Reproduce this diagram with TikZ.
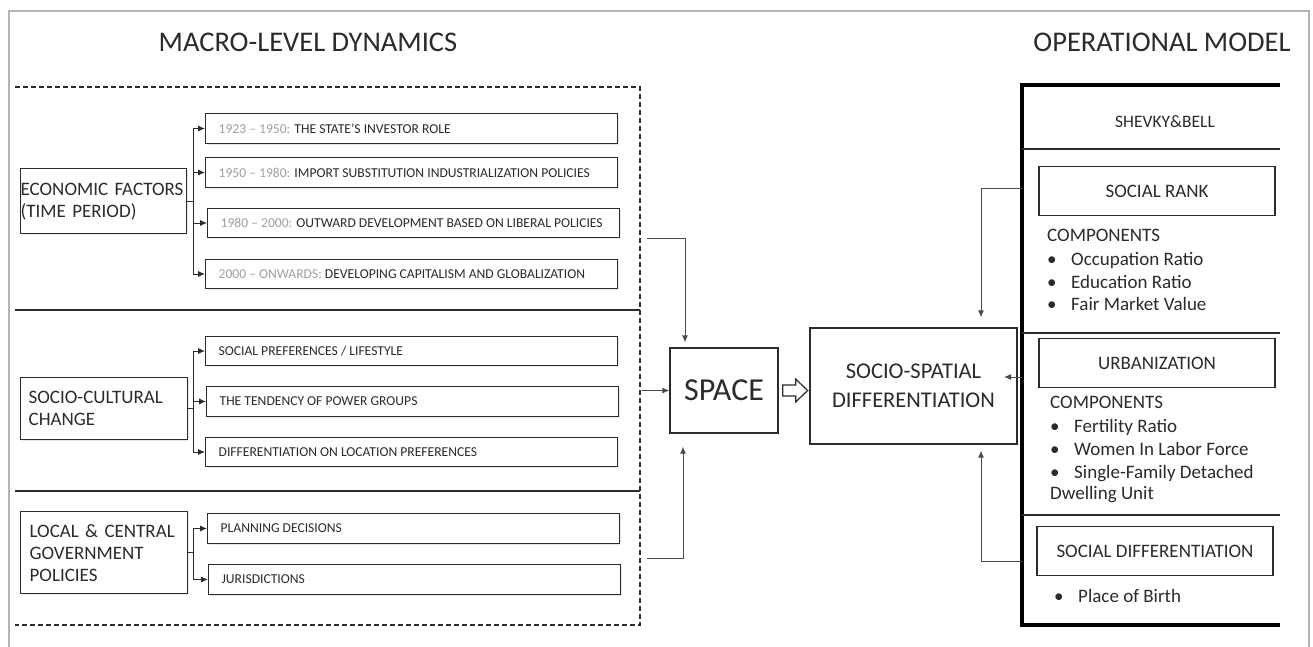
\documentclass[tikz,border=0pt]{standalone}
\usepackage{fontspec}
\setmainfont{Carlito}
\usetikzlibrary{arrows.meta,calc,shadows}
\definecolor{ink}{HTML}{2B2B2B}
\definecolor{yr}{HTML}{A0A0A0}
\definecolor{framec}{HTML}{B4B4B4}
\newcommand{\subtxt}[1]{\makebox[386pt][l]{#1}}
\begin{document}
\begin{tikzpicture}[x=1pt,y=-1pt,
  title/.style={text=ink,font=\fontsize{28.5}{32}\selectfont,inner sep=0pt},
  catbox/.style={draw=ink,line width=1.3pt,fill=white,text=ink,
     font=\fontsize{19}{22}\selectfont,align=left,anchor=north west,
     drop shadow={opacity=0.18,shadow xshift=1.5pt,shadow yshift=-1.5pt}},
  subbox/.style={draw=ink,line width=1.3pt,fill=white,text=ink,
     font=\fontsize{13.6}{15}\selectfont,anchor=west,
     inner xsep=13pt,minimum height=29.5pt,
     drop shadow={opacity=0.18,shadow xshift=1.5pt,shadow yshift=-1.5pt}},
  bigbox/.style={draw=ink,line width=1.3pt,fill=white,text=ink,align=center},
  rbox/.style={draw=ink,line width=1.3pt,fill=white,text=ink,
     font=\fontsize{19}{22}\selectfont,minimum width=236pt,minimum height=49pt},
  txt/.style={text=ink,font=\fontsize{19}{22}\selectfont,inner sep=0pt,anchor=base west},
  br/.style={draw=ink,line width=0.9pt,-{Latex[length=7pt,width=6pt]}},
  arr/.style={draw=ink!85,line width=0.9pt,-{Latex[length=7pt,width=6pt]}},
  dsh/.style={draw=ink,line width=2.2pt,dash pattern=on 5pt off 3pt},
  thick line/.style={draw=black,line width=3.2pt},
  divl/.style={draw=ink,line width=2pt}
]
\useasboundingbox (0,0) rectangle (1313,646);
\fill[white] (0,0) rectangle (1313,646);
% outer frame
\draw[framec,line width=1.3pt] (9,660) -- (9,11) -- (1309,11) -- (1309,660);

% titles
\node[title] (tL) at (308,42) {MACRO-LEVEL DYNAMICS};
\node[title] (tR) at (1162,42) {OPERATIONAL MODEL};

% left dashed frame and dividers
\draw[dsh] (15,87) -- (640,87) -- (640,625) -- (15,625);
\draw[divl] (15,310) -- (640,310);
\draw[divl] (15,491) -- (640,491);

% category boxes
\node[catbox,text width=166pt,inner xsep=0pt,minimum height=65pt] (eco) at (20,168)
  {\mbox{ECONOMIC FACTORS}\\ \mbox{(TIME PERIOD)}};
\node[catbox,text width=151pt,inner xsep=8pt,minimum height=62pt] (soc) at (20,377)
  {\mbox{SOCIO-CULTURAL}\\ CHANGE};
\node[catbox,text width=149pt,inner xsep=9pt,minimum height=82pt] (loc) at (20,511)
  {\mbox{LOCAL \& CENTRAL}\\ GOVERNMENT\\ POLICIES};

% sub boxes
\node[subbox] (e1) at (205,128.5) {\subtxt{{\color{yr}1923 – 1950:} THE STATE’S INVESTOR ROLE}};
\node[subbox] (e2) at (205,172.5) {\subtxt{{\color{yr}1950 – 1980:} IMPORT SUBSTITUTION INDUSTRIALIZATION POLICIES}};
\node[subbox] (e3) at (207,223) {\subtxt{{\color{yr}1980 – 2000:} OUTWARD DEVELOPMENT BASED ON LIBERAL POLICIES}};
\node[subbox] (e4) at (205,274) {\subtxt{{\color{yr}2000 – ONWARDS:} DEVELOPING CAPITALISM AND GLOBALIZATION}};
\node[subbox] (s1) at (205,351) {\subtxt{SOCIAL PREFERENCES / LIFESTYLE}};
\node[subbox] (s2) at (206,401.5) {\subtxt{THE TENDENCY OF POWER GROUPS}};
\node[subbox] (s3) at (205,452) {\subtxt{DIFFERENTIATION ON LOCATION PREFERENCES}};
\node[subbox] (l1) at (207,528.5) {\subtxt{PLANNING DECISIONS}};
\node[subbox] (l2) at (208,579.5) {\subtxt{JURISDICTIONS}};

% branch connectors
\coordinate (bx) at (193,0);
\foreach \t in {e1,e2,e3,e4}{\draw[br] (eco.east) -- (eco.east -| bx) |- (\t.west);}
\foreach \t in {s1,s2,s3}{\draw[br] (soc.east) -- (soc.east -| bx) |- (\t.west);}
\foreach \t in {l1,l2}{\draw[br] (loc.east) -- (loc.east -| bx) |- (\t.west);}

% central boxes
\node[bigbox,minimum width=108pt,minimum height=85pt,font=\fontsize{32}{36}\selectfont] (space) at (724,390.5) {SPACE};
\node[bigbox,minimum width=207pt,minimum height=116pt,font=\fontsize{22.5}{29}\selectfont] (ssd) at (913.5,386) {SOCIO-SPATIAL\\DIFFERENTIATION};

% hollow arrow
\draw[ink,line width=1.2pt,fill=white,line join=miter]
  ($(space.east)+(4,-5.5)$) -- ($(space.east)+(17,-5.5)$) -- ($(space.east)+(17,-11.5)$)
  -- ($(space.east)+(29,0)$) -- ($(space.east)+(17,11.5)$) -- ($(space.east)+(17,5.5)$)
  -- ($(space.east)+(4,5.5)$) -- cycle;

% arrows into SPACE
\coordinate (pT) at (647,238);
\coordinate (pM) at (642,390.5);
\coordinate (pB) at (647,558);
\draw[arr,shorten >=5pt] (pT) -| ($(space.north)+(-39,0)$);
\draw[arr] (pM) -- (space.west);
\draw[arr,shorten >=13pt] (pB) -| ($(space.south)+(-41,0)$);

% operational model frame
\draw[thick line] (1280,85) -- (1022,85) -- (1022,625) -- (1280,625);
\draw[divl] (1022,149) -- (1280,149);
\draw[divl] (1022,333) -- (1280,333);
\draw[divl] (1022,515) -- (1280,515);

\node[text=ink,font=\fontsize{17.5}{21}\selectfont] (shb) at (1165,122) {SHEVKY\&BELL};
\node[rbox] (rank) at (1157,191) {SOCIAL RANK};
\node[rbox] (urb) at (1157,363) {URBANIZATION};
\node[rbox] (sdif) at (1155,551) {SOCIAL DIFFERENTIATION};

\node[txt] (c1) at (1047,241) {COMPONENTS};
\node[txt] (c1a) at (1047,265) {\makebox[24pt][l]{•}Occupation Ratio};
\node[txt] (c1b) at (1047,288) {\makebox[24pt][l]{•}Education Ratio};
\node[txt] (c1c) at (1047,310) {\makebox[24pt][l]{•}Fair Market Value};

\node[txt] (c2) at (1050,408) {COMPONENTS};
\node[txt] (c2a) at (1050,432) {\makebox[24pt][l]{•}Fertility Ratio};
\node[txt] (c2b) at (1050,455) {\makebox[24pt][l]{•}Women In Labor Force};
\node[txt] (c2c) at (1050,478) {\makebox[24pt][l]{•}Single-Family Detached};
\node[txt] (c2d) at (1050,499) {Dwelling Unit};

\node[txt] (c3) at (1054,602) {\makebox[24pt][l]{•}Place of Birth};

% arrows into SOCIO-SPATIAL
\coordinate (rT) at (1022,188);
\coordinate (rM) at (1022,377);
\coordinate (rMe) at (1004,377);
\coordinate (rB) at (1022,561);
\draw[arr,shorten >=10pt] (rT) -| ($(ssd.north)+(67.5,0)$);
\draw[arr] (rM) -- (rMe);
\draw[arr,shorten >=6pt] (rB) -| ($(ssd.south)+(67.5,0)$);
\end{tikzpicture}
\end{document}
